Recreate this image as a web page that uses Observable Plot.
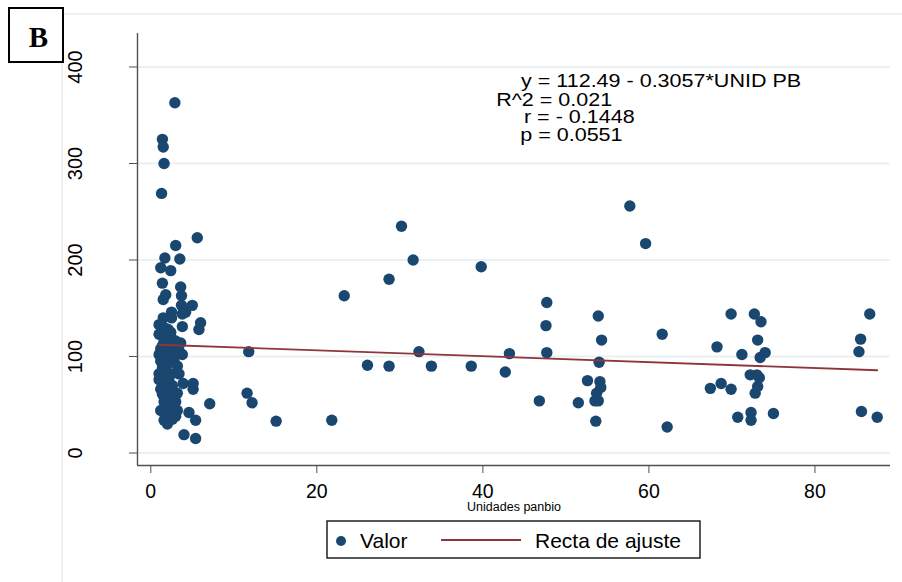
<!DOCTYPE html>
<html><head><meta charset="utf-8">
<script src="https://cdn.jsdelivr.net/npm/d3@7"></script>
<script src="https://cdn.jsdelivr.net/npm/@observablehq/plot@0.6"></script>
<style>
body{margin:0;background:#fff;font-family:"Liberation Sans",Arial,sans-serif;}
#wrap{position:relative;width:902px;height:582px;overflow:hidden;background:#fff}
.fh{position:absolute;left:61px;top:13px;width:841px;height:2px;background:#ebf1f5}
.fv{position:absolute;left:61px;top:13px;width:2px;height:569px;background:#ebf1f5}
#chart{position:absolute;left:0;top:0}
#badge{position:absolute;left:8px;top:7px}
#legend{position:absolute;left:326px;top:520px}
</style></head>
<body>
<div id="wrap">
  <div class="fh"></div><div class="fv"></div>
  <div id="chart"></div>
  <svg id="badge" width="56" height="56"></svg>
  <svg id="legend" width="376" height="40"></svg>
</div>
<script>
// ---- data ----
const panbio = [
 2.9,1.4,1.5,1.6,1.3,5.6,3.0,1.7,3.5,1.2,2.4,1.4,3.6,1.8,3.7,1.5,5.0,3.7,2.5,4.2,
 3.8,1.5,2.5,1.0,6.0,3.8,5.8,2.1,1.0,2.4,1.6,3.0,3.6,1.4,2.6,3.4,1.0,2.2,3.8,1.6,
 2.8,2.0,1.4,1.0,2.4,3.4,1.6,3.9,5.1,2.6,1.2,5.1,2.2,1.4,3.0,1.6,7.1,1.2,3.2,4.6,
 2.4,3.0,1.6,5.4,2.0,4.0,5.4,
 1.8,2.0,1.2,2.8,1.8,2.2,1.4,2.0,1.8,2.4,1.8,2.6,1.2,2.4,1.6,3.2,2.0,1.0,2.8,3.2,
 11.8,11.6,12.2,15.1,21.8,23.3,26.1,28.7,28.7,30.2,31.6,32.3,33.8,38.6,39.8,42.7,43.2,46.8,47.7,47.6,
 47.7,51.5,52.6,53.9,54.3,54.0,54.1,54.2,53.7,53.9,53.5,53.6,57.7,59.6,61.6,62.2,67.4,68.2,68.7,69.9,
 69.9,70.7,71.2,72.2,72.3,72.3,72.7,72.8,73.0,73.1,73.1,73.3,73.4,73.5,74.0,75.0,85.3,85.5,85.6,86.6,
 87.5
];
const valor = [
 363,325,317,300,269,223,215,202,201,192,189,176,172,164,163,159,153,153,146,146,
 144,140,140,133,135,131,128,128,123,121,116,116,114,111,109,106,102,102,102,97,
 95,92,88,82,82,82,76,72,72,70,66,66,62,61,53,53,51,44,44,42,
 40,38,34,34,30,19,15,
 105,112,108,100,86,78,72,68,58,48,40,35,95,125,130,90,120,76,58,62,
 105,62,52,33,34,163,91,180,90,235,200,105,90,90,193,84,103,54,156,132,
 104,52,75,142,117,94,74,68,62,54,54,33,256,217,123,27,67,110,72,144,
 66,37,102,81,42,34,144,62,81,117,69,78,99,136,104,41,105,118,43,144,
 37
];
const yTicks = [0, 100, 200, 300, 400];
const xTicks = [0, 20, 40, 60, 80];
const fitIntercept = 112.49;
const fitSlope = -0.3057;
const statLines = ["y = 112.49 - 0.3057*UNID PB", "R^2 = 0.021", "r = - 0.1448", "p = 0.0551"];
const xTitle = "Unidades panbio";
const legendLabels = ["Valor", "Recta de ajuste"];
const panelLabel = "B";

// ---- styling / layout ----
const navy = "#1a476f", maroon = "#90353b", axisCol = "#505050";
const xDom = [-1.6, 89.1], yDom = [-12.95, 434.7];
const statAt = [[44.6, 378.8], [41.6, 359.1], [44.95, 341.5], [44.5, 322.8]];

const points = panbio.map((x, i) => ({x, y: valor[i]}));
const fit = d3.extent(panbio).map(x => ({x, y: fitIntercept + fitSlope * x}));
const stats = statLines.map((t, i) => ({t, x: statAt[i][0], y: statAt[i][1]}));

const chart = Plot.plot({
  width: 902, height: 520,
  marginLeft: 137, marginRight: 12, marginTop: 33, marginBottom: 55,
  x: {domain: xDom, label: null},
  y: {domain: yDom, label: null},
  style: {background: "transparent", fontFamily: "'Liberation Sans', Arial, sans-serif", color: "#000"},
  marks: [
    Plot.ruleY(yTicks, {stroke: "#eaf1f4", strokeWidth: 2}),
    Plot.ruleX([xDom[0]], {stroke: axisCol, strokeWidth: 1.4}),
    Plot.ruleY([yDom[0]], {stroke: axisCol, strokeWidth: 1.4}),
    Plot.axisY({ticks: yTicks, tickSize: 8, tickFormat: () => "", label: null, stroke: axisCol}),
    Plot.axisX({ticks: xTicks, tickSize: 8, tickFormat: () => "", label: null, stroke: axisCol}),
    Plot.text(yTicks, {y: d => d, text: d => String(d), frameAnchor: "left", dx: -61.5, rotate: -90,
      textAnchor: "middle", lineAnchor: "middle", fontSize: 20, fill: "#000"}),
    Plot.text(xTicks, {x: d => d, text: d => String(d), frameAnchor: "bottom", dy: 19,
      lineAnchor: "top", fontSize: 19.5, fill: "#000"}),
    Plot.text([xTitle], {text: d => d, frameAnchor: "bottom", dy: 45.5, lineAnchor: "bottom", fontSize: 12.5, fill: "#000"}),
    Plot.dot(points, {x: "x", y: "y", r: 5.7, fill: navy}),
    Plot.line(fit, {x: "x", y: "y", stroke: maroon, strokeWidth: 1.8}),
    Plot.text(stats, {x: "x", y: "y", text: "t", textAnchor: "start", lineAnchor: "bottom", fontSize: 18.4,
      fill: "#000"})
  ]
});
// the reference's annotation lettering is horizontally stretched: scale each line about its start point
Array.from(chart.querySelectorAll("text"))
  .filter(el => statLines.includes(el.textContent))
  .forEach(el => {
    const x = +el.getAttribute("x") || 0, y = +el.getAttribute("y") || 0;
    const prev = el.getAttribute("transform") || "";
    el.setAttribute("x", 0); el.setAttribute("y", 0);
    el.setAttribute("transform", `${prev} translate(${x},${y}) scale(1.17,1)`);
  });
document.getElementById("chart").appendChild(chart);

// badge
const badge = d3.select("#badge");
badge.append("rect").attr("x", 1).attr("y", 1).attr("width", 54).attr("height", 54)
  .attr("fill", "#fff").attr("stroke", "#000").attr("stroke-width", 2);
badge.append("text").attr("x", 30.5).attr("y", 40).attr("text-anchor", "middle")
  .attr("font-family", "'Liberation Serif','Times New Roman',serif").attr("font-weight", "bold")
  .attr("font-size", 29).text(panelLabel);

// legend
const lg = d3.select("#legend");
lg.append("rect").attr("x", 1).attr("y", 1).attr("width", 373).attr("height", 37)
  .attr("fill", "#fff").attr("stroke", "#222").attr("stroke-width", 1.5);
lg.append("circle").attr("cx", 15).attr("cy", 21).attr("r", 5).attr("fill", navy);
lg.append("text").attr("x", 34).attr("y", 28).attr("font-size", 21)
  .attr("font-family", "'Liberation Sans',Arial,sans-serif").text(legendLabels[0]);
lg.append("line").attr("x1", 115).attr("x2", 195).attr("y1", 20).attr("y2", 20)
  .attr("stroke", maroon).attr("stroke-width", 2);
lg.append("text").attr("x", 209).attr("y", 28).attr("font-size", 21)
  .attr("font-family", "'Liberation Sans',Arial,sans-serif").text(legendLabels[1]);
</script>
</body></html>
